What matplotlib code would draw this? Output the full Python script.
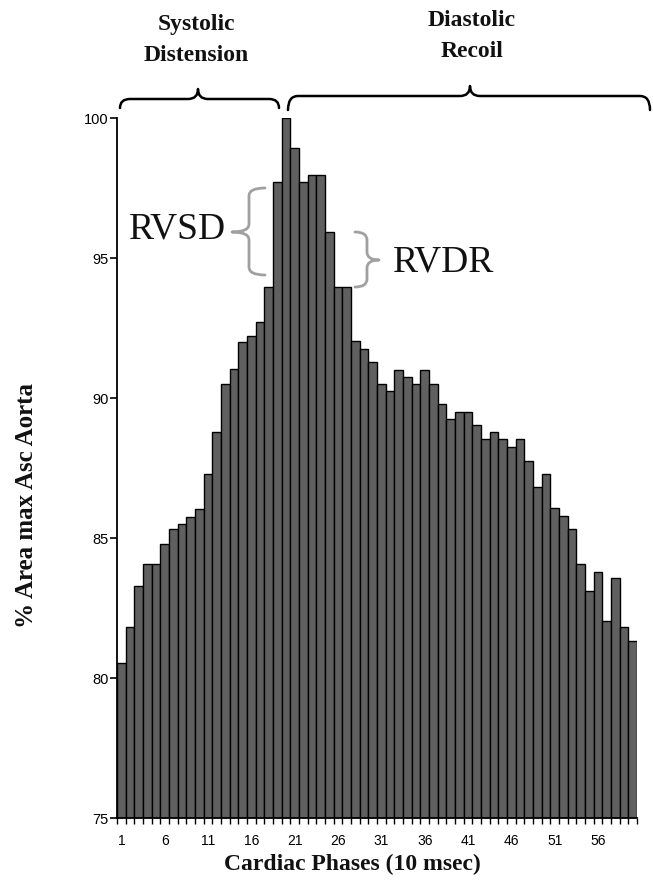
import matplotlib
matplotlib.use("Agg")
import matplotlib.pyplot as plt
from matplotlib.path import Path
from matplotlib.patches import PathPatch
import numpy as np

phases = list(range(1, 61))
values = [80.54, 81.84, 83.31, 84.07, 84.07, 84.80, 85.33, 85.51, 85.77, 86.05,
          87.29, 88.81, 90.51, 91.04, 92.00, 92.22, 92.74, 93.99, 97.74, 100.00,
          98.95, 97.74, 97.98, 97.98, 95.95, 93.99, 93.99, 92.05, 91.76, 91.29,
          90.51, 90.26, 91.01, 90.75, 90.51, 91.01, 90.51, 89.79, 89.26, 89.52,
          89.52, 89.05, 88.55, 88.81, 88.54, 88.27, 88.54, 87.76, 86.84, 87.29,
          86.07, 85.80, 85.33, 84.08, 83.12, 83.81, 82.06, 83.57, 81.84, 81.34]
xtick_labels = ["1", "6", "11", "16", "21", "26", "31", "36", "41", "46", "51", "56"]
yticks = [75, 80, 85, 90, 95, 100]

W, H = 653, 886
fig = plt.figure(figsize=(W / 100, H / 100), dpi=100)

ax = fig.add_axes([117 / W, 1 - 818.3 / H, 520 / W, 700 / H])
base = 75
ax.bar(phases, np.array(values) - base, bottom=base, width=1.0,
       color="#606060", edgecolor="black", linewidth=1.0)
ax.set_xlim(0.5, 60.5)
ax.set_ylim(75, 100)
for s in ["top", "right"]:
    ax.spines[s].set_visible(False)
for s in ["left", "bottom"]:
    ax.spines[s].set_linewidth(1.3)
ax.set_yticks(yticks)
ax.set_yticklabels([str(v) for v in yticks], fontfamily="Liberation Sans", fontsize=10.5)
ax.tick_params(axis="y", direction="out", length=5, width=1.2, pad=1)
ax.set_xticks([int(t) for t in xtick_labels])
ax.set_xticklabels(xtick_labels, fontfamily="Liberation Sans", fontsize=10)
ax.set_xticks(np.arange(0.5, 61, 1.0), minor=True)
ax.tick_params(axis="x", which="major", length=0, pad=11)
ax.tick_params(axis="x", which="minor", direction="out", length=4, width=1.0)

# overlay in pixel coordinates for annotations
ov = fig.add_axes([0, 0, 1, 1], facecolor="none")
ov.set_xlim(0, W)
ov.set_ylim(H, 0)
ov.axis("off")

def hbrace(x0, x1, xm, y_end, y_line, y_tip, color="black", lw=1.8, r=10):
    verts = [(x0, y_end), (x0, y_line), (x0 + r, y_line),
             (xm - r, y_line), (xm, y_line), (xm, y_tip),
             (xm, y_line), (xm + r, y_line),
             (x1 - r, y_line), (x1, y_line), (x1, y_end)]
    codes = [Path.MOVETO, Path.CURVE3, Path.CURVE3,
             Path.LINETO, Path.CURVE3, Path.CURVE3,
             Path.CURVE3, Path.CURVE3,
             Path.LINETO, Path.CURVE3, Path.CURVE3]
    ov.add_patch(PathPatch(Path(verts, codes), facecolor="none", edgecolor=color,
                           lw=lw, capstyle="round", joinstyle="round"))

def vbrace(y0, y1, ym, x_end, x_line, x_tip, color="#a0a0a0", lw=2.0, r=8):
    verts = [(x_end, y0), (x_line, y0), (x_line, y0 + r),
             (x_line, ym - r), (x_line, ym), (x_tip, ym),
             (x_line, ym), (x_line, ym + r),
             (x_line, y1 - r), (x_line, y1), (x_end, y1)]
    codes = [Path.MOVETO, Path.CURVE3, Path.CURVE3,
             Path.LINETO, Path.CURVE3, Path.CURVE3,
             Path.CURVE3, Path.CURVE3,
             Path.LINETO, Path.CURVE3, Path.CURVE3]
    ov.add_patch(PathPatch(Path(verts, codes), facecolor="none", edgecolor=color,
                           lw=lw, capstyle="round", joinstyle="round"))

# top braces
hbrace(120, 279, 198, 108, 99, 89)
hbrace(288, 650, 470, 110, 96, 86)

serif_b = dict(fontfamily="Liberation Serif", fontweight="bold", fontsize=17,
               ha="center", va="center", color="#111111")
ov.text(196, 24, "Systolic", **serif_b)
ov.text(196, 55, "Distension", **serif_b)
ov.text(472, 20, "Diastolic", **serif_b)
ov.text(472, 51, "Recoil", **serif_b)

# RVSD / RVDR braces
vbrace(188, 275, 232, 265, 249, 232)
vbrace(232, 287, 260, 355, 367, 379)
ov.text(177, 229, "RVSD", fontfamily="Liberation Serif", fontsize=27,
        ha="center", va="center", color="#111111")
ov.text(444, 262, "RVDR", fontfamily="Liberation Serif", fontsize=27,
        ha="center", va="center", color="#111111")

# axis labels
ov.text(352, 864, "Cardiac Phases (10 msec)", fontfamily="Liberation Serif",
        fontweight="bold", fontsize=17, ha="center", va="center", color="#111111")
ov.text(27, 505, "% Area max Asc Aorta", fontfamily="Liberation Serif",
        fontweight="bold", fontsize=18, ha="center", va="center", rotation=90,
        color="#111111")

fig.savefig("out.png", dpi=100, facecolor="white")
